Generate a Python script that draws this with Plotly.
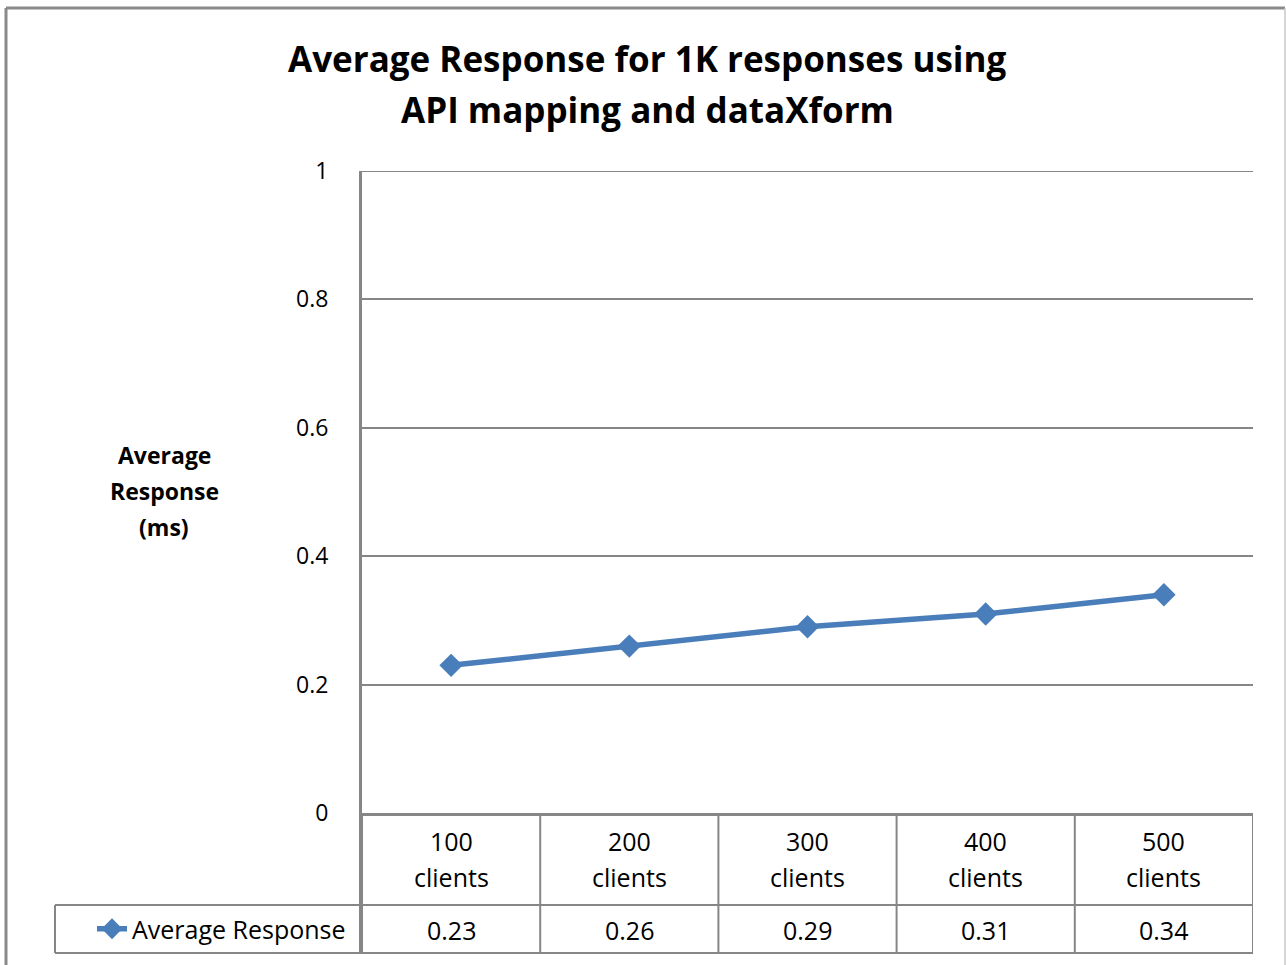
import plotly.graph_objects as go

# ---- data -------------------------------------------------------------
categories = ["100 clients", "200 clients", "300 clients", "400 clients", "500 clients"]
avg_response = [0.23, 0.26, 0.29, 0.31, 0.34]
series_name = "Average Response"
title_lines = ["Average Response for 1K responses using", "API mapping and dataXform"]
y_title_lines = ["Average", "Response", "(ms)"]
y_ticks = [0, 0.2, 0.4, 0.6, 0.8, 1]

# ---- geometry helpers (figure pixels -> paper fractions) --------------
W, H = 1286, 965
L, R, T, B = 362, 1253, 171, 813          # plot area edges in pixels
PW, PH = R - L, B - T


def px(x):
    return (x - L) / PW


def py(y):
    return (B - y) / PH


FONT = "'Open Sans', Lato, sans-serif"
GRID = "#868686"
BLUE = "#4a7ebb"

fig = go.Figure()
fig.add_trace(go.Scatter(
    x=categories, y=avg_response, name=series_name,
    mode="lines+markers",
    line=dict(color=BLUE, width=5.5),
    marker=dict(symbol="diamond", size=18, color=BLUE),
))

shapes = []
# top gridline at the upper edge of the value range
shapes.append(dict(type="line", xref="paper", yref="y",
                   x0=0, x1=1, y0=y_ticks[-1], y1=y_ticks[-1],
                   line=dict(color=GRID, width=2)))

# ---- data table below the plot ----------------------------------------
row_mid, row_bot = 905, 953
for k in range(len(categories) + 1):
    shapes.append(dict(type="line", xref="x", yref="paper",
                       x0=k - 0.5, x1=k - 0.5, y0=0, y1=py(row_bot),
                       line=dict(color=GRID, width=2)))
for yy in (row_mid, row_bot):
    shapes.append(dict(type="line", xref="paper", yref="paper",
                       x0=px(55), x1=1, y0=py(yy), y1=py(yy),
                       line=dict(color=GRID, width=2)))
shapes.append(dict(type="line", xref="paper", yref="paper",
                   x0=px(55), x1=px(55), y0=py(row_mid), y1=py(row_bot),
                   line=dict(color=GRID, width=2)))
# left axis continues through the table
shapes.append(dict(type="line", xref="paper", yref="paper",
                   x0=px(360.5), x1=px(360.5), y0=0, y1=py(row_bot),
                   line=dict(color=GRID, width=3)))

# ---- chart-area border --------------------------------------------------
shapes.append(dict(type="line", xref="paper", yref="paper",
                   x0=px(6), x1=px(6), y0=py(8), y1=py(975),
                   line=dict(color="#8a8a8a", width=3)))
shapes.append(dict(type="line", xref="paper", yref="paper",
                   x0=px(6), x1=px(1285), y0=py(8), y1=py(8),
                   line=dict(color="#8a8a8a", width=3)))
shapes.append(dict(type="line", xref="paper", yref="paper",
                   x0=px(1285), x1=px(1285), y0=py(8), y1=py(975),
                   line=dict(color="#c8c8c8", width=1.5)))

annotations = []
# title
for i, line in enumerate(title_lines):
    annotations.append(dict(text=f"<b>{line}</b>", xref="paper", yref="paper",
                            x=px(647), y=py(58 + 51 * i), xanchor="center", yanchor="middle",
                            showarrow=False, font=dict(family=FONT, size=35, color="black")))
# y-axis title
for i, line in enumerate(y_title_lines):
    annotations.append(dict(text=f"<b>{line}</b>", xref="paper", yref="paper",
                            x=px(164), y=py(455 + 36 * i), xanchor="center", yanchor="middle",
                            showarrow=False, font=dict(family=FONT, size=23, color="black")))
# category row
for cat in categories:
    for j, part in enumerate(cat.split(" ")):
        annotations.append(dict(text=part, xref="x", yref="paper",
                                x=cat, y=py(841 + 36 * j), xanchor="center", yanchor="middle",
                                showarrow=False, font=dict(family=FONT, size=25, color="black")))
# value row
for cat, v in zip(categories, avg_response):
    annotations.append(dict(text=f"{v:.2f}", xref="x", yref="paper",
                            x=cat, y=py(930), xanchor="center", yanchor="middle",
                            showarrow=False, font=dict(family=FONT, size=25, color="black")))

fig.update_layout(
    width=W, height=H,
    margin=dict(l=L, r=W - R, t=T, b=H - B, pad=0),
    paper_bgcolor="white", plot_bgcolor="white",
    font=dict(family=FONT, color="black"),
    showlegend=True,
    legend=dict(x=px(92), y=py(929), xanchor="left", yanchor="middle",
                bgcolor="rgba(0,0,0,0)", font=dict(family=FONT, size=25, color="black"),
                itemsizing="trace"),
    xaxis=dict(type="category", range=[-0.5, len(categories) - 0.5],
               showticklabels=False, showgrid=False, zeroline=False,
               showline=True, linecolor=GRID, linewidth=3, ticks=""),
    yaxis=dict(range=[0, 1], tickvals=y_ticks, ticktext=[f"{t:g}" for t in y_ticks],
               showgrid=True, gridcolor=GRID, gridwidth=2, zeroline=False,
               showline=True, linecolor=GRID, linewidth=3, ticks="",
               ticklabelstandoff=26,
               tickfont=dict(family=FONT, size=23, color="black")),
    shapes=shapes, annotations=annotations,
)

fig.write_html("out.html")
